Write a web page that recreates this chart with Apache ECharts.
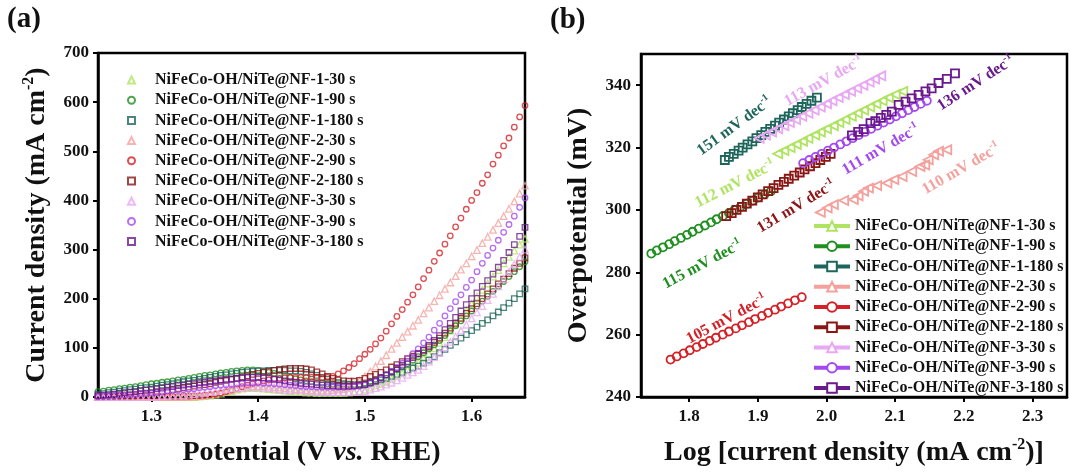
<!DOCTYPE html>
<html>
<head>
<meta charset="utf-8">
<script src="https://cdn.jsdelivr.net/npm/echarts@6/dist/echarts.min.js"></script>
<style>html,body{margin:0;padding:0;background:#fff}#c{width:1070px;height:472px}</style>
</head>
<body>
<div id="c"></div>
<script>
// ---------- names & colours ----------
const seriesNames = [
  'NiFeCo-OH/NiTe@NF-1-30 s','NiFeCo-OH/NiTe@NF-1-90 s','NiFeCo-OH/NiTe@NF-1-180 s',
  'NiFeCo-OH/NiTe@NF-2-30 s','NiFeCo-OH/NiTe@NF-2-90 s','NiFeCo-OH/NiTe@NF-2-180 s',
  'NiFeCo-OH/NiTe@NF-3-30 s','NiFeCo-OH/NiTe@NF-3-90 s','NiFeCo-OH/NiTe@NF-3-180 s'
];
const seriesColors = ['#afe462','#1f8f1f','#1e665c','#f4a19d','#d42026','#8a1616','#e9a8f3','#a448f0','#6a1a8c'];
const seriesSymbols = ['triangle','circle','rect','triangle','circle','rect','triangle','circle','rect'];

// ---------- panel (a): LSV ----------
const potential = [1.250,1.255,1.260,1.265,1.270,1.275,1.280,1.285,1.290,1.295,1.300,1.305,1.310,1.315,1.320,1.325,1.330,1.335,1.340,1.345,1.350,1.355,1.360,1.365,1.370,1.375,1.380,1.385,1.390,1.395,1.400,1.405,1.410,1.415,1.420,1.425,1.430,1.435,1.440,1.445,1.450,1.455,1.460,1.465,1.470,1.475,1.480,1.485,1.490,1.495,1.500,1.505,1.510,1.515,1.520,1.525,1.530,1.535,1.540,1.545,1.550,1.555,1.560,1.565,1.570,1.575,1.580,1.585,1.590,1.595,1.600,1.605,1.610,1.615,1.620,1.625,1.630,1.635,1.640,1.645,1.650];
const lsv_1_30 = [0,0,0,0,0,0,0,0,0,0,0,0,0,0,0,0,0,0,0,1,2,3,5,7,10,12,15,17,18,18,18,17,16,15,14,13,12,11,10,9,9,8,8,8,8,8,8,9,10,12,15,19,23,27,31,37,43,49,55,62,70,79,88,99,110,122,135,148,162,176,190,204,218,231,245,258,272,285,298,310,322];
const lsv_1_90 = [11,12,14,15,17,18,20,21,23,25,27,28,30,31,33,35,36,38,40,42,44,45,47,49,50,52,53,54,55,55,54,52,50,48,45,42,40,37,35,33,31,29,28,27,26,25,25,25,25,26,28,32,36,40,45,50,56,62,68,75,82,90,98,106,115,125,135,145,155,165,175,185,195,205,215,225,235,245,255,265,275];
const lsv_1_180 = [6,7,9,10,12,13,15,16,18,19,20,22,24,25,27,29,31,33,34,36,38,40,42,44,45,47,48,50,51,52,53,53,54,54,54,54,53,53,52,50,47,44,40,36,32,29,27,26,25,25,26,29,32,35,38,42,46,50,55,59,63,69,75,82,90,97,105,112,120,127,135,142,150,157,165,173,182,191,200,210,220];
const lsv_2_30 = [0,0,0,0,0,0,0,0,0,0,0,0,0,0,0,0,0,1,1,2,3,5,7,10,12,15,17,19,21,22,22,22,21,20,19,18,17,16,15,14,14,13,13,13,14,15,16,19,25,33,42,52,62,73,85,98,110,122,133,145,157,170,182,195,207,220,233,246,259,272,286,299,313,326,340,354,368,383,398,414,430];
const lsv_2_90 = [0,0,0,0,0,0,0,1,1,1,1,1,1,1,1,1,2,2,3,3,4,5,6,8,11,14,17,21,24,27,30,33,35,37,38,39,40,40,40,40,40,39,39,40,42,47,53,60,68,78,87,97,108,120,134,149,164,178,193,208,224,241,258,276,293,311,328,346,364,382,400,416,435,452,474,492,511,527,549,570,593];
const lsv_2_180 = [0,0,1,1,2,3,4,5,6,7,8,10,11,13,15,17,19,20,22,24,25,27,30,32,34,36,38,41,43,46,48,50,52,54,56,57,58,58,58,57,55,51,47,42,38,35,33,32,32,34,38,42,46,50,55,61,66,72,78,83,88,95,102,111,120,130,140,150,160,170,180,190,200,210,220,230,240,251,262,272,283];
const lsv_3_30 = [0,0,0,0,0,0,0,0,1,1,1,1,2,2,3,3,4,5,6,7,8,10,12,14,16,17,18,19,20,20,20,19,18,17,16,15,14,14,13,12,12,11,11,11,10,10,10,10,11,11,12,15,18,21,25,29,34,39,45,50,55,63,72,81,90,101,112,123,135,147,160,172,185,197,210,225,240,255,270,285,300];
const lsv_3_90 = [1,2,2,3,4,4,5,6,7,7,8,9,10,12,13,14,15,16,17,19,20,21,23,24,25,26,27,28,29,29,29,28,28,27,26,25,24,23,22,21,21,20,20,20,20,20,20,21,21,22,24,28,32,38,45,52,60,69,78,88,98,110,122,136,150,165,180,194,208,223,238,255,272,288,303,319,335,351,368,386,405];
const lsv_3_180 = [3,4,5,6,8,9,10,11,13,14,15,17,18,20,21,23,24,26,27,29,30,32,33,35,36,37,38,39,40,40,40,39,38,36,35,33,31,30,28,27,26,25,24,23,23,22,22,22,23,24,25,29,33,39,45,51,58,65,72,80,88,96,105,115,125,137,150,162,175,188,200,212,225,237,250,264,278,294,310,327,345];
const lsvSets = [lsv_1_30, lsv_1_90, lsv_1_180, lsv_2_30, lsv_2_90, lsv_2_180, lsv_3_30, lsv_3_90, lsv_3_180];
const ticksA_x = [1.3, 1.4, 1.5, 1.6];

// ---------- panel (b): Tafel ----------
const tafel_1_30_log = [1.929,1.938,1.947,1.956,1.965,1.973,1.983,1.991,2.000,2.010,2.018,2.027,2.036,2.045,2.054,2.063,2.072,2.081,2.090,2.100,2.111];
const tafel_1_30_eta = [318,319,320,321,322,323,324,325,326,327,328,329,330,331,332,333,334,335,336,337,338];
const tafel_1_90_log = [1.745,1.753,1.762,1.771,1.779,1.788,1.797,1.805,1.814,1.823,1.832,1.840,1.849,1.858,1.866,1.875,1.884,1.893,1.901,1.910,1.919];
const tafel_1_90_eta = [286,287,288,289,290,291,292,293,294,295,296,297,298,299,300,301,302,303,304,305,306];
const tafel_1_180_log = [1.852,1.858,1.865,1.872,1.878,1.885,1.892,1.898,1.905,1.911,1.918,1.925,1.931,1.938,1.945,1.951,1.958,1.964,1.971,1.978,1.986];
const tafel_1_180_eta = [316,317,318,319,320,321,322,323,324,325,326,327,328,329,330,331,332,333,334,335,336];
const tafel_2_30_log = [1.991,2.001,2.010,2.025,2.039,2.046,2.054,2.061,2.073,2.088,2.098,2.110,2.124,2.136,2.143,2.148,2.156,2.163,2.175];
const tafel_2_30_eta = [299.2,300.6,301.7,303.0,303.3,304.5,306.0,307.0,307.8,308.6,309.7,310.7,312.3,313.9,314.4,316.1,317.7,318.8,319.3];
const tafel_2_90_log = [1.773,1.782,1.792,1.801,1.811,1.820,1.830,1.839,1.849,1.858,1.868,1.877,1.887,1.896,1.906,1.915,1.925,1.934,1.944,1.954,1.964];
const tafel_2_90_eta = [252,253,254,255,256,257,258,259,260,261,262,263,264,265,266,267,268,269,270,271,272];
const tafel_2_180_log = [1.854,1.862,1.869,1.877,1.884,1.892,1.900,1.907,1.915,1.923,1.930,1.938,1.945,1.953,1.961,1.968,1.976,1.984,1.991,1.999,2.006];
const tafel_2_180_eta = [298,299,300,301,302,303,304,305,306,307,308,309,310,311,312,313,314,315,316,317,318];
const tafel_3_30_log = [1.902,1.911,1.920,1.929,1.938,1.946,1.955,1.964,1.973,1.982,1.991,2.000,2.008,2.017,2.026,2.035,2.044,2.053,2.062,2.070,2.079];
const tafel_3_30_eta = [323,324,325,326,327,328,329,330,331,332,333,334,335,336,337,338,339,340,341,342,343];
const tafel_3_90_log = [1.966,1.975,1.984,1.993,2.002,2.011,2.020,2.029,2.038,2.047,2.056,2.065,2.074,2.083,2.092,2.101,2.110,2.119,2.128,2.137,2.146];
const tafel_3_90_eta = [315,316,317,318,319,320,321,322,323,324,325,326,327,328,329,330,331,332,333,334,335];
const tafel_3_180_log = [2.037,2.046,2.054,2.064,2.071,2.079,2.087,2.095,2.105,2.115,2.124,2.134,2.144,2.153,2.163,2.175,2.187];
const tafel_3_180_eta = [323.9,325.0,325.9,327.8,328.5,329.5,330.5,331.5,333.7,334.7,335.8,336.9,338.0,339.0,340.7,342.0,343.8];
const tafelLogs = [tafel_1_30_log,tafel_1_90_log,tafel_1_180_log,tafel_2_30_log,tafel_2_90_log,tafel_2_180_log,tafel_3_30_log,tafel_3_90_log,tafel_3_180_log];
const tafelEtas = [tafel_1_30_eta,tafel_1_90_eta,tafel_1_180_eta,tafel_2_30_eta,tafel_2_90_eta,tafel_2_180_eta,tafel_3_30_eta,tafel_3_90_eta,tafel_3_180_eta];
const tafelSlopes = [112, 115, 151, 110, 105, 131, 113, 111, 136];
const ticksB_x = [1.8, 1.9, 2.0, 2.1, 2.2, 2.3];
const ticksB_y = [240, 260, 280, 300, 320, 340];

// slope label anchors (data coords) and angles - layout only
const slopeLabelLog = [1.867, 1.8195, 1.866, 2.196, 1.8546, 1.956, 1.996, 2.079, 2.2174];
const slopeLabelEta = [308.3, 282.5, 326.8, 313.1, 264.9, 301.0, 341.2, 319.3, 340.6];
const slopeLabelAngle = [27, 28, 36, 30, 28, 31, 29, 30, 33];

// ---------- build ----------
const FONT = '"Liberation Serif","Times New Roman",serif';
const chart = echarts.init(document.getElementById('c'), null, {renderer: 'canvas'});

const series = [];
seriesNames.forEach((nm, i) => {
  series.push({
    type: 'scatter', name: nm, xAxisIndex: 0, yAxisIndex: 0,
    data: potential.map((v, k) => [v, lsvSets[i][k]]),
    symbol: seriesSymbols[i], symbolSize: seriesSymbols[i] === 'triangle' ? 6.5 : 5.5,
    itemStyle: {color: 'rgba(0,0,0,0)', borderColor: seriesColors[i], borderWidth: 1.3},
    emphasis: {disabled: true}, silent: true
  });
});
seriesNames.forEach((nm, i) => {
  series.push({
    type: 'line', name: 'b:' + nm, xAxisIndex: 1, yAxisIndex: 1,
    data: tafelLogs[i].map((v, k) => [v, tafelEtas[i][k]]),
    symbol: seriesSymbols[i], symbolSize: seriesSymbols[i] === 'triangle' ? 9 : 8,
    symbolRotate: seriesSymbols[i] === 'triangle' ? 90 : 0,
    showSymbol: true, showAllSymbol: true,
    lineStyle: {color: seriesColors[i], width: 0, opacity: 0},
    itemStyle: {color: 'rgba(0,0,0,0)', borderColor: seriesColors[i], borderWidth: 1.8},
    emphasis: {disabled: true}, silent: true
  });
});

const axisLineStyle = {show: true, onZero: false, lineStyle: {color: '#000', width: 2.5}};
const tickStyle = {show: true, inside: false, length: 5, lineStyle: {color: '#000', width: 2}};
const labelStyle = {fontFamily: FONT, fontWeight: 'bold', fontSize: 17, color: '#111'};
const nameRich = {
  n: {fontFamily: FONT, fontWeight: 'bold', fontSize: 28, color: '#111', lineHeight: 32},
  i: {fontFamily: FONT, fontWeight: 'bold', fontStyle: 'italic', fontSize: 28, color: '#111', lineHeight: 32},
  s: {fontFamily: FONT, fontWeight: 'bold', fontSize: 16, color: '#111', lineHeight: 16, verticalAlign: 'top'}
};
const legendText = {fontFamily: FONT, fontWeight: 'bold', fontSize: 16, color: '#111'};

const option = {
  animation: false,
  backgroundColor: '#fff',
  grid: [
    {left: 98, top: 53, width: 427, height: 344, show: true, borderColor: '#000', borderWidth: 2.5, backgroundColor: 'transparent'},
    {left: 641, top: 54, width: 426, height: 344, show: true, borderColor: '#000', borderWidth: 2.5, backgroundColor: 'transparent'}
  ],
  xAxis: [
    {type: 'value', gridIndex: 0, min: 1.25, max: 1.65,
     axisLine: axisLineStyle, axisTick: Object.assign({customValues: ticksA_x}, tickStyle),
     axisLabel: Object.assign({customValues: ticksA_x, margin: 11, formatter: v => v.toFixed(1)}, labelStyle),
     splitLine: {show: false},
     name: '{n|Potential (V }{i|vs.}{n| RHE)}', nameLocation: 'middle', nameGap: 40,
     nameTextStyle: {fontFamily: FONT, fontWeight: 'bold', fontSize: 28, rich: nameRich}},
    {type: 'value', gridIndex: 1, min: 1.73, max: 2.35,
     axisLine: axisLineStyle, axisTick: Object.assign({customValues: ticksB_x}, tickStyle),
     axisLabel: Object.assign({customValues: ticksB_x, margin: 11, formatter: v => v.toFixed(1)}, labelStyle),
     splitLine: {show: false},
     name: '{n|Log [current density (mA cm}{s|-2}{n|)]}', nameLocation: 'middle', nameGap: 40,
     nameTextStyle: {fontFamily: FONT, fontWeight: 'bold', fontSize: 28, rich: nameRich}}
  ],
  yAxis: [
    {type: 'value', gridIndex: 0, min: 0, max: 700, interval: 100,
     axisLine: axisLineStyle, axisTick: tickStyle,
     axisLabel: Object.assign({margin: 9}, labelStyle),
     splitLine: {show: false},
     name: '{n|Current density (mA cm}{s|-2}{n|)}', nameLocation: 'middle', nameGap: 45,
     nameTextStyle: {fontFamily: FONT, fontWeight: 'bold', fontSize: 28, rich: nameRich}},
    {type: 'value', gridIndex: 1, min: 240, max: 350,
     axisLine: axisLineStyle, axisTick: Object.assign({customValues: ticksB_y}, tickStyle),
     axisLabel: Object.assign({customValues: ticksB_y, margin: 10}, labelStyle),
     splitLine: {show: false},
     name: '{n|Overpotential (mV)}', nameLocation: 'middle', nameGap: 46,
     nameTextStyle: {fontFamily: FONT, fontWeight: 'bold', fontSize: 28, rich: nameRich}}
  ],
  legend: [
    {data: seriesNames, orient: 'vertical', left: 122, top: 67, itemWidth: 7, itemHeight: 7, itemGap: 4.2,
     textStyle: Object.assign({padding: [0, 0, 0, 15]}, legendText), selectedMode: false},
    {data: seriesNames.map(n => 'b:' + n), orient: 'vertical', left: 807, top: 213, itemWidth: 36, itemHeight: 12, itemGap: 4.25,
     symbolRotate: 0, lineStyle: {width: 4, opacity: 1}, itemStyle: {color: '#fff', borderWidth: 2},
     textStyle: legendText, selectedMode: false, formatter: n => n.replace(/^b:/, '')}
  ],
  series: series
};
chart.setOption(option);

// graphics: panel titles and slope annotations placed via axis conversion
const graphics = [
  {type: 'text', left: 7, top: 5, style: {text: '(a)', fill: '#111', font: 'bold 29px ' + FONT}},
  {type: 'text', left: 550, top: 6, style: {text: '(b)', fill: '#111', font: 'bold 29px ' + FONT}}
];
tafelSlopes.forEach((s, i) => {
  const p = chart.convertToPixel({xAxisIndex: 1, yAxisIndex: 1}, [slopeLabelLog[i], slopeLabelEta[i]]);
  const c = seriesColors[i];
  graphics.push({
    type: 'text', x: p[0], y: p[1], rotation: slopeLabelAngle[i] * Math.PI / 180, silent: true,
    style: {
      text: '{a|' + s + ' mV dec}{s|-1}', align: 'center', verticalAlign: 'middle',
      rich: {
        a: {fill: c, fontFamily: FONT, fontWeight: 'bold', fontSize: 16, lineHeight: 20},
        s: {fill: c, fontFamily: FONT, fontWeight: 'bold', fontSize: 10, lineHeight: 12, verticalAlign: 'top'}
      }
    }
  });
});
chart.setOption({graphic: graphics});
</script>
</body>
</html>
